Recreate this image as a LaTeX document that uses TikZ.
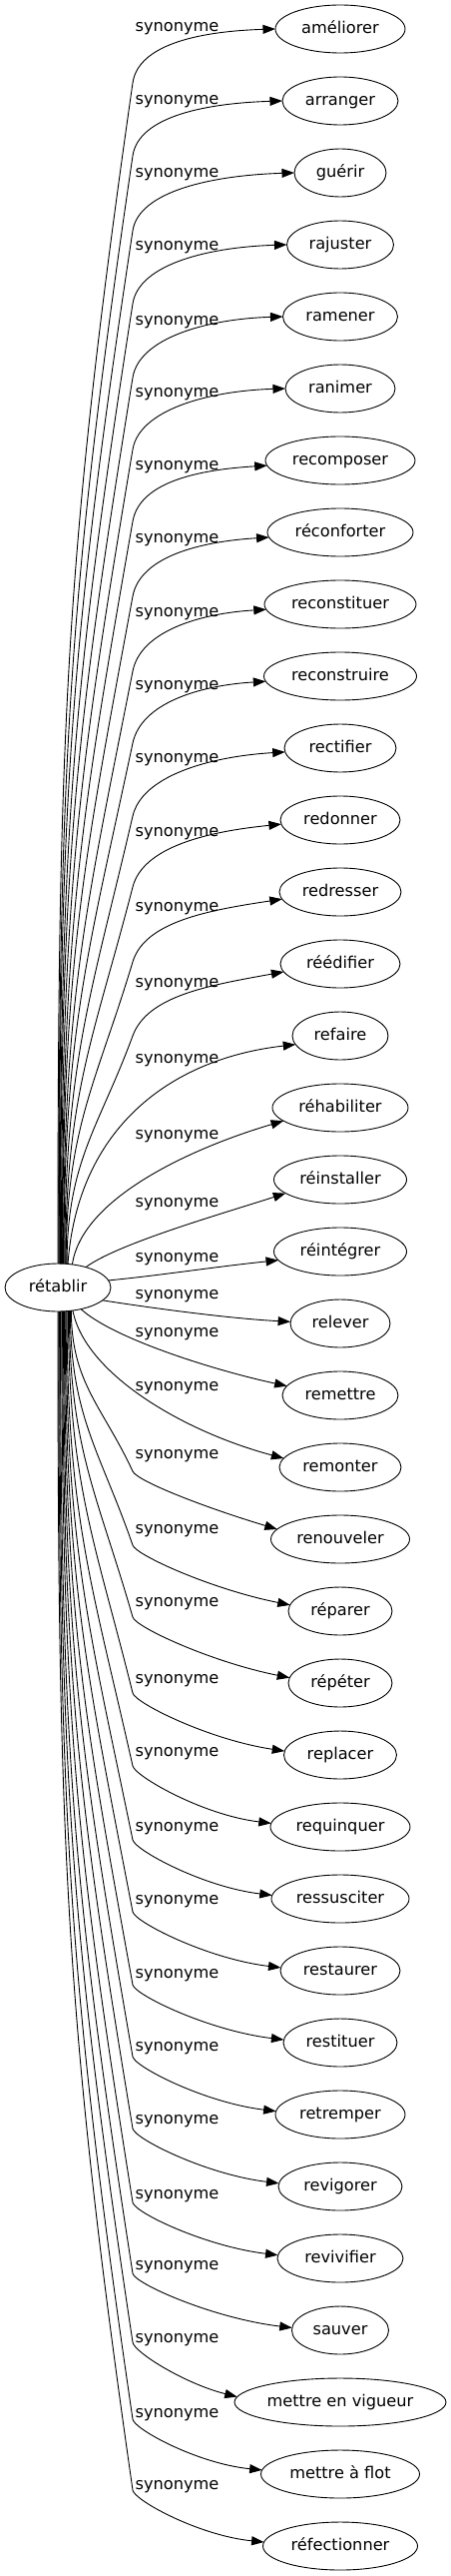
\documentclass[tikz,border=0pt]{standalone}
\usepackage{fontspec}
\setmainfont{DejaVu Sans}
\usetikzlibrary{arrows.meta,shapes.geometric}
\begin{document}
\begin{tikzpicture}[x=1pt,y=-1pt,
  txt/.style={font=\fontsize{16.2}{19}\selectfont, text height=12pt, text depth=3pt, inner sep=0pt, outer sep=0pt},
  word/.style={txt, draw, ellipse, minimum height=48pt, line width=0.9pt},
  lab/.style={txt},
  edge/.style={line width=0.9pt, -{Triangle[length=12.5pt,width=9pt]}}]
\useasboundingbox (0,0) rectangle (452,2579);
\node[word, minimum width=106pt] (r) at (58,1289) {rétablir};
\foreach \k/\t/\w in {1/améliorer/130, 2/arranger/116, 3/guérir/92, 4/rajuster/107,
  5/ramener/115, 6/ranimer/110, 7/recomposer/150, 8/réconforter/146, 9/reconstituer/152,
  10/reconstruire/153, 11/rectifier/112, 12/redonner/120, 13/redresser/122, 14/réédifier/120,
  15/refaire/96, 16/réhabiliter/136, 17/réinstaller/133, 18/réintégrer/133, 19/relever/100,
  20/remettre/116, 21/remonter/122, 22/renouveler/139, 23/réparer/104, 24/répéter/104,
  25/replacer/113, 26/requinquer/140, 27/ressusciter/138, 28/restaurer/120, 29/restituer/114,
  30/retremper/130, 31/revigorer/124, 32/revivifier/126, 33/sauver/97,
  34/mettre en vigueur/212, 35/mettre à flot/159, 36/réfectionner/155}
  \node[word, minimum width=\w pt] (t\k) at (341,{29+72*(\k-1)}) {\t};
\foreach \k/\L in {1/27, 2/100, 3/173, 4/246, 5/321, 6/393, 7/466, 8/539, 9/613, 10/686,
  11/759, 12/833, 13/908, 14/984, 15/1060, 16/1136, 17/1204, 18/1259, 19/1296, 20/1334,
  21/1388, 22/1456, 23/1531, 24/1604, 25/1681, 26/1754, 27/1829, 28/1902, 29/1976,
  30/2049, 31/2122, 32/2197, 33/2268, 34/2341, 35/2416, 36/2488}
  \node[lab] (l\k) at (177.5,\L) {synonyme};
% two-part connectors (upper and lower fans)
\foreach \k/\w/\ang/\eBy/\arr/\es/\sg in {
  1/130/90/83/180/0.03/-1, 2/116/88/156/180/0.03/-1, 3/92/87/231/180/0.03/-1,
  4/107/85/304/180/0.03/-1, 5/115/84/378/180/0.03/-1, 6/110/82/450/180/0.03/-1,
  7/150/80/522/184/0.06/-1, 8/146/79/597/184/0.06/-1, 9/152/77/672/184/0.06/-1,
  10/153/76/744/184/0.06/-1, 11/112/74/817/184/0.06/-1, 12/120/72/888/184/0.1/-1,
  13/122/71/963/187/0.15/-1, 14/120/69/1037/188/0.18/-1,
  22/139/-60/1473/171/0.3/1, 23/104/-62/1547/173/0.2/1, 24/104/-64/1619/174/0.2/1,
  25/113/-66/1695/176/0.15/1, 26/140/-69/1768/177/0.12/1, 27/138/-71/1842/177/0.12/1,
  28/120/-73/1914/177/0.12/1, 29/114/-75/1987/177/0.12/1, 30/130/-77/2059/177/0.12/1,
  31/124/-79/2131/177/0.12/1, 32/126/-81/2205/177/0.12/1, 33/97/-84/2276/177/0.12/1,
  34/212/-86/2345/177/0.25/1, 35/159/-88/2422/177/0.1/1, 36/155/-90/2493/177/0.1/1}{
  \pgfmathsetmacro\eYc{29+72*(\k-1)}
  \pgfmathsetmacro\eCa{cos(\ang)}
  \pgfmathsetmacro\eSa{sin(\ang)}
  \pgfmathsetmacro\eR{1272/sqrt((24*(\eCa))^2+(53*(\eSa))^2)}
  \pgfmathsetmacro\eSx{58+\eR*(\eCa)}
  \pgfmathsetmacro\eSy{1289-\eR*(\eSa)}
  \pgfmathsetmacro\eCb{cos(\arr)}
  \pgfmathsetmacro\eSb{sin(\arr)}
  \pgfmathsetmacro\eRt{(\w/2)*24/sqrt((24*(\eCb))^2+((\w/2)*(\eSb))^2)}
  \pgfmathsetmacro\eTx{341+\eRt*(\eCb)}
  \pgfmathsetmacro\eTy{\eYc-\eRt*(\eSb)}
  \pgfmathsetmacro\eD{abs(\eBy-\eSy)}
  \pgfmathsetmacro\eM{0.08+(133-\eSx)/\eD}
  \pgfmathsetmacro\eA{0.45*\eD}
  \pgfmathsetmacro\eH{0.4*\eD}
  \pgfmathsetmacro\eG{ifthenelse(\sg<0,min(40,0.75*abs(\eBy-\eTy)),10)}
  \pgfmathsetmacro\eL{0.5*(\eTx-133)}
  \pgfmathsetmacro\pAy{\eSy+(\sg)*\eA}
  \pgfmathsetmacro\pBx{133-\eM*\eH}
  \pgfmathsetmacro\pBy{\eBy-(\sg)*\eH}
  \pgfmathsetmacro\pCx{133+\eM*\eG}
  \pgfmathsetmacro\pCy{\eBy+(\sg)*\eG}
  \pgfmathsetmacro\pDx{\eTx-\eL}
  \pgfmathsetmacro\pDy{\eTy-(\sg)*(\es)*\eL}
  \draw[edge] (r.\ang) .. controls (\eSx,\pAy) and (\pBx,\pBy) .. (133,\eBy)
     .. controls (\pCx,\pCy) and (\pDx,\pDy) .. (t\k.\arr);
}
% middle connectors
\draw[edge] (r.67) .. controls (78,1130) and (170,1060) .. (t15.191);
\draw[edge] (r.58) .. controls (82,1200) and (190,1150) .. (t16.193);
\draw[edge] (r.36) .. controls (118,1245) and (223,1215) .. (t17.194);
\draw[edge] (r.8) .. controls (160,1277) and (217,1268) .. (t18.188);
\draw[edge] (r.-16) .. controls (155,1310) and (230,1320) .. (t19.178);
\draw[edge] (r.-43) .. controls (113,1340) and (215,1372) .. (t20.170);
\draw[edge] (r.-57) .. controls (85,1375) and (183,1433) .. (t21.171);
\end{tikzpicture}
\end{document}
